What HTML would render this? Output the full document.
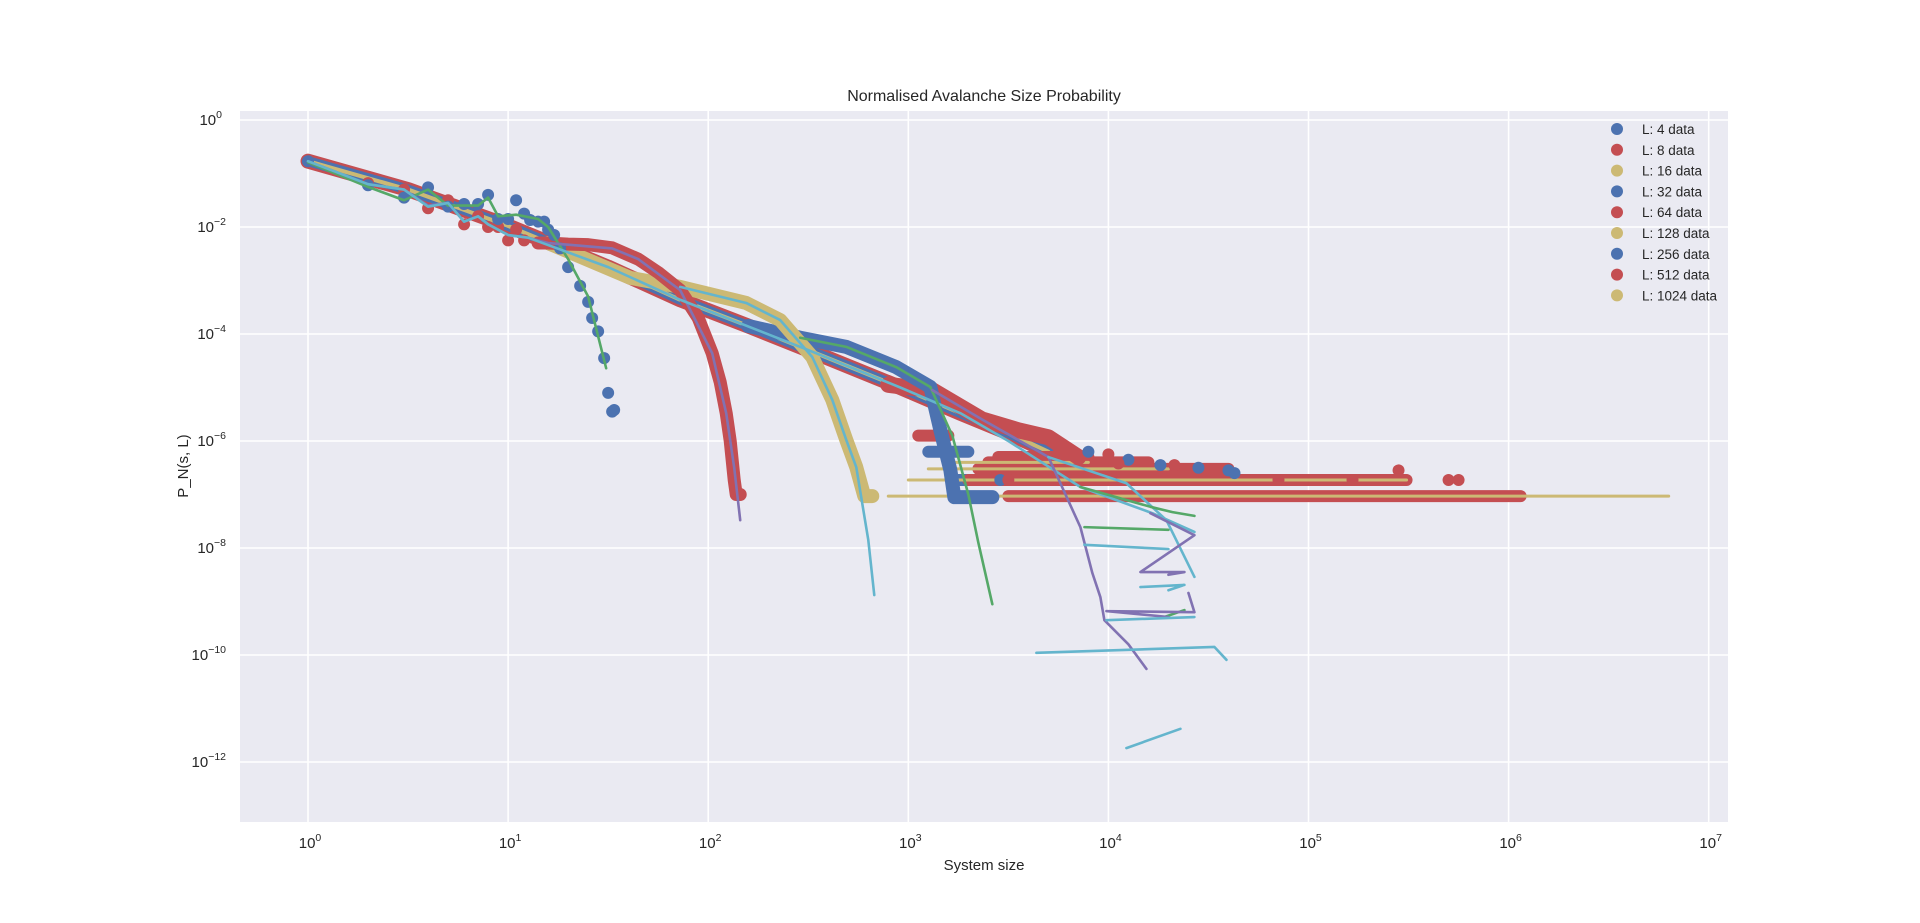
<!DOCTYPE html>
<html><head><meta charset="utf-8"><style>
body{margin:0;background:#fff;}
svg{display:block;font-family:"Liberation Sans",sans-serif;}
</style></head><body>
<svg id="chart" width="1920" height="923"></svg>
<script>
// ---- data (log10 values) ----
const xTicks=[0,1,2,3,4,5,6,7];
const yTicks=[0,-2,-4,-6,-8,-10,-12];
const legendLabels=["L: 4 data","L: 8 data","L: 16 data","L: 32 data","L: 64 data","L: 128 data","L: 256 data","L: 512 data","L: 1024 data"];
const baseLogS=[0,0.5,1.0,1.5,1.86,2.2,2.5,2.96,3.26,3.5,3.7];
const baseLogP=[-0.77,-1.3,-1.98,-2.75,-3.36,-3.85,-4.3,-5.0,-5.48,-5.85,-6.2];
const l4LogS=[0,0.30,0.48,0.60,0.70,0.78,0.85,0.90,0.95,1.0,1.04,1.08,1.11,1.15,1.18,1.20,1.23,1.26,1.30,1.36,1.40,1.42,1.45,1.48,1.50,1.52,1.53];
const l4LogP=[-0.77,-1.22,-1.45,-1.26,-1.62,-1.57,-1.57,-1.40,-1.85,-1.85,-1.5,-1.75,-1.87,-1.9,-1.9,-2.05,-2.15,-2.4,-2.75,-3.1,-3.4,-3.7,-3.95,-4.45,-5.1,-5.45,-5.42];
const l8LogS=[0,0.30,0.48,0.60,0.70,0.78,0.85,0.90,0.95,1.0,1.04,1.08,1.15,1.2,1.3,1.4,1.52,1.65,1.75,1.86,1.95,2.02,2.06,2.09,2.11,2.13,2.14,2.16];
const l8LogP=[-0.77,-1.18,-1.3,-1.65,-1.5,-1.95,-1.8,-2.0,-2.0,-2.25,-2.05,-2.25,-2.3,-2.3,-2.32,-2.33,-2.39,-2.6,-2.85,-3.18,-3.7,-4.36,-4.9,-5.48,-6.0,-6.73,-7.0,-7.0];
const l16LogS=[1.2,1.61,1.86,2.19,2.36,2.52,2.62,2.69,2.74,2.78,2.82];
const l16LogP=[-2.3,-2.95,-3.12,-3.42,-3.74,-4.43,-5.23,-5.98,-6.49,-7.03,-7.03];
const l32LogS=[2.2,2.46,2.69,2.94,3.11,3.16,3.21,3.23,3.3,3.42];
const l32LogP=[-3.85,-4.07,-4.24,-4.62,-4.99,-5.79,-6.54,-7.05,-7.05,-7.05];
const l64LogS=[2.9,3.12,3.37,3.55,3.7,3.85];
const l64LogP=[-4.95,-5.05,-5.6,-5.8,-5.93,-6.3];
// horizontal count bands: [start logS, end logS, logP]
const bandStart=[3.23,3.5,3.3,3.35,3.4,3.45,3.1,3.05];
const bandEnd  =[3.42,6.06,5.49,4.6,4.2,3.9,3.3,3.2];
const bandLogP =[-6.73,-7.03,-6.73,-6.52,-6.40,-6.30,-6.2,-5.9];
const bandSeries=[3,4,4,4,4,4,6,7];
const goldLineStart=[2.9,3.0,3.1,3.2];
const goldLineEnd=[6.80,5.49,4.3,3.9];
const goldLineLogP=[-7.03,-6.73,-6.52,-6.4];
const outLogS=[3.46,3.5,3.9,4.0,4.1,4.05,4.26,4.33,4.45,4.6,4.63,4.85,5.45,5.22,5.7,5.75];
const outLogP=[-6.73,-6.73,-6.2,-6.25,-6.35,-6.42,-6.45,-6.45,-6.5,-6.55,-6.6,-6.73,-6.55,-6.73,-6.73,-6.73];
const outSeries=[3,4,6,7,6,7,6,7,6,6,3,7,7,7,7,7];
// fitted lines
const fitGreen4S=[0,0.30,0.48,0.60,0.70,0.78,0.85,0.90,0.95,1.04,1.15,1.2,1.3,1.4,1.49];
const fitGreen4P=[-0.79,-1.25,-1.5,-1.3,-1.6,-1.6,-1.6,-1.45,-1.8,-1.77,-1.85,-2.0,-2.6,-3.3,-4.64];
const fitPurple8S=[0,0.30,0.48,0.60,0.70,0.78,0.85,0.90,1.0,1.1,1.2,1.3,1.52,1.65,1.86,2.02,2.09,2.13,2.16];
const fitPurple8P=[-0.77,-1.2,-1.3,-1.6,-1.55,-1.9,-1.8,-1.95,-2.15,-2.2,-2.3,-2.33,-2.4,-2.6,-3.18,-4.36,-5.48,-6.5,-7.48];
const fitCyanS=[0,0.30,0.48,0.60,0.70,0.78,0.85,0.90,1.0,1.1,1.5,1.86,2.5,2.96,3.26,3.5,3.86,4.22,4.43];
const fitCyanP=[-0.77,-1.2,-1.3,-1.62,-1.55,-1.9,-1.8,-1.95,-2.15,-2.2,-2.75,-3.36,-4.3,-5.0,-5.48,-6.0,-6.86,-7.35,-7.7];
const fitCyan16S=[1.86,2.19,2.36,2.52,2.62,2.69,2.74,2.80,2.83];
const fitCyan16P=[-3.12,-3.42,-3.74,-4.43,-5.23,-5.98,-6.49,-7.85,-8.88];
const fitGreen32S=[2.46,2.69,2.94,3.11,3.22,3.3,3.35,3.42];
const fitGreen32P=[-4.07,-4.24,-4.62,-4.99,-5.9,-7.0,-7.9,-9.05];
const fitPurple64S=[3.12,3.37,3.7,3.76,3.86,3.92,3.96,3.98,4.1,4.19];
const fitPurple64P=[-5.05,-5.6,-6.3,-6.79,-7.61,-8.47,-8.92,-9.35,-9.8,-10.26];
const fitCyan128S=[3.7,4.09,4.29,4.43];
const fitCyan128P=[-6.3,-6.79,-7.48,-8.54];
const fitGreen256S=[3.86,4.21,4.32,4.43];
const fitGreen256P=[-6.86,-7.23,-7.33,-7.40];
const fitGreenBS=[3.88,4.30];
const fitGreenBP=[-7.61,-7.66];
const fitGreenCS=[4.28,4.38];
const fitGreenCP=[-9.29,-9.16];
const fitPurple512S=[4.21,4.43,4.16,4.38,4.30];
const fitPurple512P=[-7.35,-7.76,-8.45,-8.45,-8.50];
const fitPurpleBS=[4.40,4.43,3.99,4.30];
const fitPurpleBP=[-8.84,-9.2,-9.18,-9.29];
const fitCyanBS=[3.88,4.30];
const fitCyanBP=[-7.94,-8.02];
const fitCyanCS=[4.16,4.38,4.30];
const fitCyanCP=[-8.73,-8.69,-8.79];
const fitCyanDS=[3.99,4.43];
const fitCyanDP=[-9.35,-9.29];
const fitCyanES=[3.64,4.53,4.59];
const fitCyanEP=[-9.96,-9.85,-10.09];
const fitCyanFS=[4.09,4.36];
const fitCyanFP=[-11.74,-11.38];

// ---- layout ----
const L=240,R=1728,T=111,B=822;
const X=v=>308+200.1*v;
const Y=v=>120-53.5*v;
const C=["#4C72B0","#C44E52","#CCB974"];
const LC={g:"#55A868",p:"#8172B2",c:"#64B5CD"};
const serCol=i=>C[i%3];
const svg=document.getElementById('chart');
const NS="http://www.w3.org/2000/svg";
function mk(tag,attrs,parent){const e=document.createElementNS(NS,tag);for(const k in attrs)e.setAttribute(k,attrs[k]);(parent||svg).appendChild(e);return e;}

const bg=mk('rect',{x:L,y:T,width:R-L,height:B-T,fill:"#EAEAF2"});


const grid=mk('g',{stroke:"#fff","stroke-width":1.6});


xTicks.forEach(t=>mk('line',{x1:X(t),x2:X(t),y1:T,y2:B},grid));
yTicks.forEach(t=>mk('line',{x1:L,x2:R,y1:Y(t),y2:Y(t)},grid));

const clip=mk('clipPath',{id:'pc'});mk('rect',{x:L,y:T,width:R-L,height:B-T},clip);
const plot=mk('g',{'clip-path':'url(#pc)'});



function band(sx,sy,col,w,name){
  const pts=sx.map((s,i)=>X(s)+","+Y(sy[i])).join(" ");
  const e=mk('polyline',{points:pts,fill:"none",stroke:col,"stroke-width":w,"stroke-linecap":"round","stroke-linejoin":"round"},plot);
  
  
}
function dots(sx,sy,col,name){
  const g=mk('g',{fill:col},plot);
  
  
  sx.forEach((s,i)=>mk('circle',{cx:X(s),cy:Y(sy[i]),r:6},g));
}
band(baseLogS,baseLogP,C[1],15,'large-l-band-red');
band(baseLogS,baseLogP,C[0],10,'large-l-band-blue');
band(baseLogS,baseLogP,C[2],4,'large-l-band-gold');
bandStart.forEach((s,i)=>{band([s,bandEnd[i]],[bandLogP[i],bandLogP[i]],serCol(bandSeries[i]),12,'count-band-'+i);});
goldLineStart.forEach((s,i)=>{band([s,goldLineEnd[i]],[goldLineLogP[i],goldLineLogP[i]],C[2],3,'gold-floor-'+i);});
band(l64LogS,l64LogP,C[1],16,'series-l64-band');
band(l32LogS,l32LogP,C[0],14,'series-l32-band');
band(l16LogS,l16LogP,C[2],14,'series-l16-band');
band(l8LogS.slice(12),l8LogP.slice(12),C[1],13,'series-l8-band');
dots(l8LogS,l8LogP,C[1],'series-l8-points');
dots(l4LogS,l4LogP,C[0],'series-l4-points');
outLogS.forEach((s,i)=>{const c=mk('circle',{cx:X(s),cy:Y(outLogP[i]),r:6,fill:serCol(outSeries[i])},plot);

});
const fits=[[fitGreen4S,fitGreen4P,'g'],[fitPurple8S,fitPurple8P,'p'],[fitCyanS,fitCyanP,'c'],[fitCyan16S,fitCyan16P,'c'],[fitGreen32S,fitGreen32P,'g'],[fitPurple64S,fitPurple64P,'p'],[fitCyan128S,fitCyan128P,'c'],[fitGreen256S,fitGreen256P,'g'],[fitGreenBS,fitGreenBP,'g'],[fitGreenCS,fitGreenCP,'g'],[fitPurple512S,fitPurple512P,'p'],[fitPurpleBS,fitPurpleBP,'p'],[fitCyanBS,fitCyanBP,'c'],[fitCyanCS,fitCyanCP,'c'],[fitCyanDS,fitCyanDP,'c'],[fitCyanES,fitCyanEP,'c'],[fitCyanFS,fitCyanFP,'c']];
fits.forEach((f,i)=>band(f[0],f[1],LC[f[2]],2.6,'fit-line-'+i));

function tlabel(x,y,exp,anchor,name){
  const t=mk('text',{x:x,y:y,"font-size":15,fill:"#262626","text-anchor":anchor});
  
  
  t.textContent="10";
  const s=mk('tspan',{"font-size":10.5,dy:-7},t);s.textContent=exp;
}
xTicks.forEach(t=>tlabel(X(t)+2,848,String(t),"middle",'x-tick-label'));
yTicks.forEach(t=>tlabel(t===0?222:226,Y(t)+5,t===0?"0":"\u2212"+(-t),"end",'y-tick-label'));

function txt(s,attrs,name){const t=mk('text',attrs);t.textContent=s;

return t;}
txt("Normalised Avalanche Size Probability",{x:984,y:101,"font-size":16,fill:"#262626","text-anchor":"middle"},'chart-title');
txt("System size",{x:984,y:870,"font-size":15,fill:"#262626","text-anchor":"middle"},'x-axis-title');
txt("P_N(s, L)",{x:188,y:466,"font-size":15,fill:"#262626","text-anchor":"middle",transform:"rotate(-90 188 466)"},'y-axis-title');

const lg=mk('g',{});


legendLabels.forEach((s,i)=>{
  const y=129+i*20.8;
  const c=mk('circle',{cx:1617,cy:y,r:6,fill:serCol(i)},lg);
  
  
  const t=mk('text',{x:1642,y:y+5,"font-size":13.5,fill:"#262626"},lg);
  
  
  t.textContent=s;
});
</script>
</body></html>
